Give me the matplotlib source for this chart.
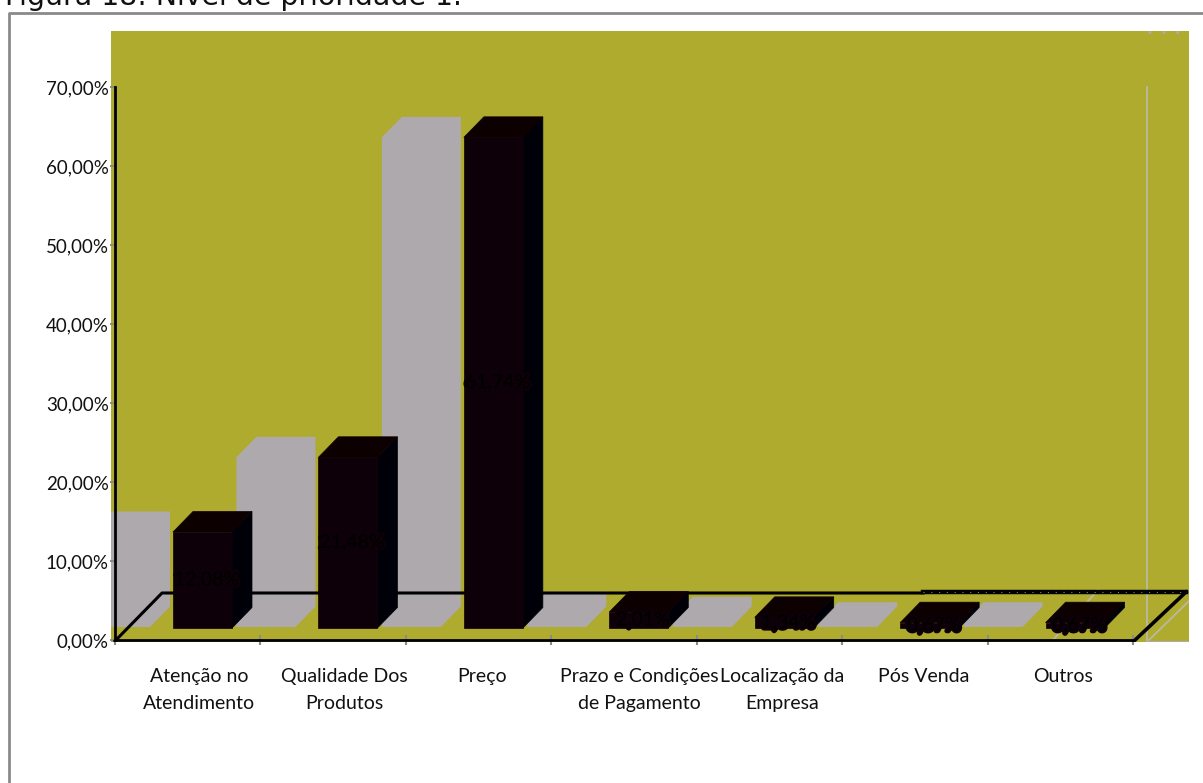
import matplotlib
matplotlib.use('Agg')
import matplotlib.pyplot as plt
import matplotlib.patheffects as pe
from matplotlib.patches import Polygon
from matplotlib.lines import Line2D

categories = ['Atenção no\nAtendimento', 'Qualidade Dos\nProdutos', 'Preço',
              'Prazo e Condições\nde Pagamento', 'Localização da\nEmpresa',
              'Pós Venda', 'Outros']
percent = [12.08, 21.48, 61.74, 2.01, 1.34, 0.67, 0.67]
bar_labels = ['12,08%', '21,48%', '61,74%', '2,01%', '1,34%', '0,67%', '0,67%']
y_ticks = [0, 10, 20, 30, 40, 50, 60, 70]
y_tick_labels = ['0,00%', '10,00%', '20,00%', '30,00%', '40,00%', '50,00%', '60,00%', '70,00%']

W, H = 1203, 783
OLIVE = '#afab2e'
GREY = '#aea9ad'
FRONT = '#0d0008'
SIDE = '#000008'
TOP = '#0d0000'
FRAME = '#8a8a8a'

# px per unit on the two axes, used to size the fake 3D depth
PX_X = 145.43
PX_Y = 7.9
ORIGIN_X, ORIGIN_Y = 115, 640
BOX_L, BOX_R, BOX_T, BOX_B = 111, 1189, 31, 642
BAR_SCALE = 1.006  # bars stand slightly nearer than the axis

plt.rcParams['font.family'] = ['Lato', 'DejaVu Sans']

fig = plt.figure(figsize=(W / 100, H / 100), dpi=100, facecolor='white')
ax = fig.add_axes([BOX_L / W, 1 - BOX_B / H, (BOX_R - BOX_L) / W, (BOX_B - BOX_T) / H],
                  facecolor=OLIVE)
ax.set_xlim((BOX_L - ORIGIN_X) / PX_X, (BOX_R - ORIGIN_X) / PX_X)
ax.set_ylim((ORIGIN_Y - BOX_B) / PX_Y, (ORIGIN_Y - BOX_T) / PX_Y)


def px(x=None, y=None):
    # pixel position to data position
    if y is None:
        return (x - ORIGIN_X) / PX_X
    if x is None:
        return (ORIGIN_Y - y) / PX_Y
    return (x - ORIGIN_X) / PX_X, (ORIGIN_Y - y) / PX_Y


bar_w = 59 / PX_X
depth_x = 20 / PX_X
depth_y = 20.5 / PX_Y
bar_base = px(y=628)
shadow_base = px(y=627)
bar_start = px(173)
shadow_shift = 82 / PX_X

# grey copies of the bars on the back wall
for i, v in enumerate(percent):
    x0 = i + bar_start - shadow_shift
    top = bar_base + v * BAR_SCALE
    ax.add_patch(Polygon([(x0, shadow_base), (x0 + bar_w, shadow_base),
                          (x0 + bar_w + depth_x, shadow_base + depth_y),
                          (x0 + bar_w + depth_x, top + depth_y),
                          (x0 + depth_x, top + depth_y), (x0, top)],
                         closed=True, fc=GREY, ec='none', zorder=1))

# thin grey frame pieces at the right
thin = {'color': '#b9b89a', 'lw': 1.4, 'zorder': 1.2}
ax.plot(*zip(px(1147, 87), px(1147, 642)), **thin)
ax.plot(*zip(px(1149, 640), px(1190, 600)), **thin)
ax.plot(*zip(px(1053, 640), px(1098, 590)), **thin)
ax.plot(*zip(px(1148, 641.5), px(1189, 641.5)), color=GREY, lw=1.5, zorder=1.2)
ax.plot(*zip(px(1148, 32), px(1187, 32)), color=GREY, lw=2, ls=(0, (1, 4)), zorder=1.2)

# floor of the 3D box
ax.plot(*zip(px(115, 641), px(162, 593), px(923, 593)), color='black', lw=2.2, zorder=2)
ax.plot(*zip(px(923, 592), px(1186, 592)), color='black', lw=3.2, zorder=2)
ax.plot(*zip(px(923, 592), px(1186, 592)), color='#8d8a40', lw=0.8, ls=(0, (1, 6)), zorder=2.1)
ax.plot(*zip(px(1186, 592), px(1134, 641)), color='black', lw=2.6, ls='-', zorder=2)

# dark bars with their top and side faces
for i, v in enumerate(percent):
    x0 = i + bar_start
    x1 = x0 + bar_w
    top = bar_base + v * BAR_SCALE
    ax.add_patch(Polygon([(x1, bar_base), (x1 + depth_x, bar_base + depth_y),
                          (x1 + depth_x, top + depth_y), (x1, top)],
                         closed=True, fc=SIDE, ec=SIDE, lw=0.5, zorder=3))
    ax.add_patch(Polygon([(x0, top), (x1, top), (x1 + depth_x, top + depth_y),
                          (x0 + depth_x, top + depth_y)],
                         closed=True, fc=TOP, ec=TOP, lw=0.5, zorder=3))
    ax.add_patch(Polygon([(x0, bar_base), (x1, bar_base), (x1, top), (x0, top)],
                         closed=True, fc=FRONT, ec=FRONT, lw=0.5, zorder=3.1))
    ax.text(x0 + bar_w / 2 + 4 / PX_X, bar_base + v * BAR_SCALE / 2, bar_labels[i],
            ha='center', va='center', fontsize=14, color='#000000', zorder=4,
            path_effects=[pe.withStroke(linewidth=3.5, foreground=FRONT)])

for name in ['top', 'right']:
    ax.spines[name].set_visible(False)
ax.spines['left'].set_position(('data', 0))
ax.spines['left'].set_bounds(0, 70)
ax.spines['left'].set_linewidth(2)
ax.spines['bottom'].set_position(('data', 0))
ax.spines['bottom'].set_bounds(0, 7)
ax.spines['bottom'].set_linewidth(2)

ax.set_yticks(y_ticks)
ax.set_yticklabels(y_tick_labels)
ax.tick_params(axis='y', length=3.5, width=1.5, color=FRAME, labelsize=13.5, pad=1, labelcolor='#111111')
ax.set_xticks(range(8))
ax.set_xticklabels([])
ax.tick_params(axis='x', length=6.5, width=1.5, color=FRAME, direction='inout')

# category names sit a little right of the tick intervals
name_centres = [199, 344, 482, 639, 782, 924, 1063]
for c, name in zip(name_centres, categories):
    fig.text(c / W, 1 - 668 / H, name, ha='center', va='top', fontsize=14,
             color='#111111', linespacing=1.68)

# outer frame, only the top and left edges fall inside the image
fig.add_artist(Line2D([8.5 / W, 8.5 / W, 1], [0, 1 - 13 / H, 1 - 13 / H], color=FRAME, lw=2))

fig.text(5 / W, 1 - 5 / H, 'Figura 18: Nível de prioridade 1.', family='DejaVu Sans',
         fontsize=20.4, color='#111111', ha='left', va='baseline')

fig.savefig('out.png', dpi=100)
